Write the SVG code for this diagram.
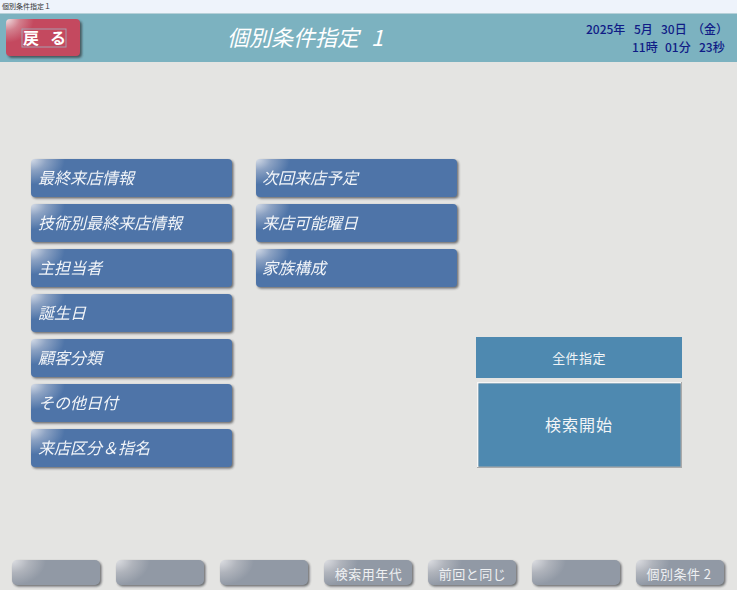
<svg xmlns="http://www.w3.org/2000/svg" width="737" height="590" viewBox="0 0 737 590">
<style>
text{font-family:"Noto Sans CJK JP","Noto Sans CJK SC",sans-serif}
.bt{fill:#fff;font-size:16px;font-style:italic;opacity:.92}
.gt{fill:#eef0f2;font-size:13px;text-anchor:middle;letter-spacing:.5px}
.dt{fill:#101c86;font-size:12px;font-weight:500}
.sh{fill:#2c2f33;opacity:.65;filter:url(#blur)}
</style>
<defs>
<filter id="blur" x="-10%" y="-20%" width="120%" height="140%"><feGaussianBlur stdDeviation="0.8"/></filter>
<radialGradient id="gb" gradientUnits="userSpaceOnUse" cx="0" cy="0" r="34" gradientTransform="scale(1,.75)"><stop offset="0" stop-color="#d8deE8"/><stop offset=".45" stop-color="#8ca2c3"/><stop offset="1" stop-color="#4e74a8"/></radialGradient>
<radialGradient id="gg" gradientUnits="userSpaceOnUse" cx="0" cy="0" r="34" gradientTransform="scale(1,.75)"><stop offset="0" stop-color="#dfe0e4"/><stop offset=".5" stop-color="#b0b4bc"/><stop offset="1" stop-color="#9199a5"/></radialGradient>
<radialGradient id="gr" gradientUnits="userSpaceOnUse" cx="0" cy="0" r="28" gradientTransform="scale(1,.85)"><stop offset="0" stop-color="#f0e2e4"/><stop offset=".5" stop-color="#d27f8d"/><stop offset="1" stop-color="#c4495f"/></radialGradient>
<g id="btnB"><rect class="sh" x="1.500" y="1.500" width="201" height="38" rx="4"/><rect width="201" height="38" rx="4" fill="url(#gb)"/></g>
<g id="btnG"><rect class="sh" x="1.500" y="1.500" width="88" height="25" rx="5"/><rect width="88" height="25" rx="5" fill="url(#gg)"/></g>
</defs>
<rect id="background" width="737" height="590" fill="#e4e4e2"/>
<g id="titlebar"><rect width="737" height="13" fill="#eef3fb"/><text x="2" y="9" font-size="7" fill="#333">個別条件指定１</text></g>
<g id="header"><rect y="13" width="737" height="49" fill="#7cb2c0"/><rect y="13" width="737" height="1" fill="#b6d0d8"/><text x="227" y="46" font-size="22" font-style="italic" fill="#fff">個別条件指定<tspan x="371">1</tspan></text></g>
<g id="back" transform="translate(6,19)"><rect class="sh" x="2" y="2" width="74" height="37" rx="4"/><rect width="74" height="37" rx="4" fill="url(#gr)"/><rect x="16" y="10" width="44" height="18" fill="none" stroke="#a5a0b0" stroke-width="1"/><text y="25" font-size="16" font-weight="700" fill="#fff"><tspan x="17">戻</tspan><tspan x="44">る</tspan></text></g>
<g id="datetime"><text class="dt" y="34"><tspan x="586">2025年</tspan><tspan x="634">5月</tspan><tspan x="661">30日</tspan><tspan x="692">（金）</tspan></text><text class="dt" y="52"><tspan x="632">11時</tspan><tspan x="665">01分</tspan><tspan x="699">23秒</tspan></text></g>
<g id="btn-last-visit" transform="translate(31,159)"><use href="#btnB"/><text class="bt" x="7" y="24.500">最終来店情報</text></g>
<g id="btn-tech-last-visit" transform="translate(31,204)"><use href="#btnB"/><text class="bt" x="7" y="24.500">技術別最終来店情報</text></g>
<g id="btn-staff" transform="translate(31,249)"><use href="#btnB"/><text class="bt" x="7" y="24.500">主担当者</text></g>
<g id="btn-birthday" transform="translate(31,294)"><use href="#btnB"/><text class="bt" x="7" y="24.500">誕生日</text></g>
<g id="btn-customer-class" transform="translate(31,339)"><use href="#btnB"/><text class="bt" x="7" y="24.500">顧客分類</text></g>
<g id="btn-other-date" transform="translate(31,384)"><use href="#btnB"/><text class="bt" x="7" y="24.500">その他日付</text></g>
<g id="btn-visit-class" transform="translate(31,429)"><use href="#btnB"/><text class="bt" x="7" y="24.500">来店区分＆指名</text></g>
<g id="btn-next-visit" transform="translate(256,159)"><use href="#btnB"/><text class="bt" x="6" y="24.500">次回来店予定</text></g>
<g id="btn-weekday" transform="translate(256,204)"><use href="#btnB"/><text class="bt" x="6" y="24.500">来店可能曜日</text></g>
<g id="btn-family" transform="translate(256,249)"><use href="#btnB"/><text class="bt" x="6" y="24.500">家族構成</text></g>
<g id="btn-all"><rect x="476" y="337" width="206" height="41" fill="#4e89b0"/><text x="579" y="363" font-size="13" fill="#f2f5f7" text-anchor="middle" letter-spacing=".4">全件指定</text></g>
<g id="btn-search"><rect x="477" y="382" width="205" height="86" fill="#aaaaaa"/><path d="M477 382H681V383.500H478.500V467H477Z" fill="#f6f6f6"/><rect x="478.500" y="383.500" width="202" height="83" fill="#4e89b0"/><text x="579" y="431" font-size="16" fill="#f2f5f7" text-anchor="middle" letter-spacing="1">検索開始</text></g>
<g id="f1" transform="translate(12,560)"><use href="#btnG"/></g>
<g id="f2" transform="translate(116,560)"><use href="#btnG"/></g>
<g id="f3" transform="translate(220,560)"><use href="#btnG"/></g>
<g id="f4" transform="translate(324,560)"><use href="#btnG"/><text class="gt" x="44.500" y="18.500">検索用年代</text></g>
<g id="f5" transform="translate(428,560)"><use href="#btnG"/><text class="gt" x="44.500" y="18.500">前回と同じ</text></g>
<g id="f6" transform="translate(532,560)"><use href="#btnG"/></g>
<g id="f7" transform="translate(636,560)"><use href="#btnG"/><text class="gt" x="43" y="18.500">個別条件 2</text></g>
<g id="connectors"/>
</svg>
